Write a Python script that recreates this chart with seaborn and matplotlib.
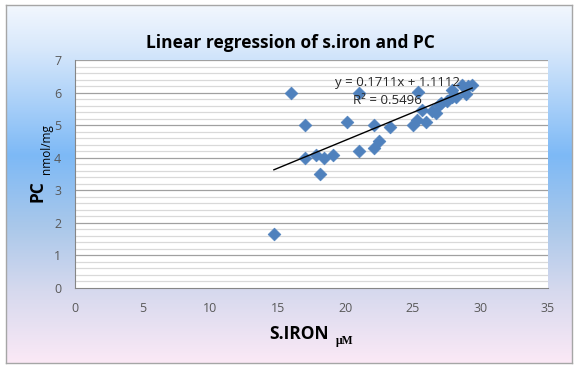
import numpy as np
import matplotlib
matplotlib.use("Agg")
import matplotlib.pyplot as plt
import seaborn as sns
import pandas as pd
from matplotlib.colors import LinearSegmentedColormap

# s.iron (uM) vs PC (nmol/mg)
s_iron = [14.7, 16.0, 17.0, 17.0, 17.8, 18.1, 18.4, 19.1, 20.1, 21.0,
          21.0, 22.1, 22.1, 22.5, 23.3, 25.0, 25.3, 25.4, 25.7, 26.0,
          26.4, 26.7, 26.9, 27.1, 27.5, 27.9, 27.9, 28.2, 28.6, 28.9,
          29.1, 29.4]
pc = [1.65, 6.0, 5.0, 4.0, 4.08, 3.5, 3.98, 4.08, 5.1, 6.0,
      4.2, 5.0, 4.3, 4.5, 4.95, 5.0, 5.15, 6.02, 5.47, 5.1,
      5.42, 5.38, 5.62, 5.69, 5.75, 6.08, 5.86, 5.87, 6.24, 5.97,
      6.2, 6.23]
slope = 0.1711
intercept = 1.1112
eq_label = "y = 0.1711x + 1.1112"
r2_label = "R² = 0.5496"
x_ticks = [0, 5, 10, 15, 20, 25, 30, 35]
y_ticks = [0, 1, 2, 3, 4, 5, 6, 7]

df = pd.DataFrame({"s_iron": s_iron, "pc": pc})

sns.set_style("white")
plt.rcParams["font.family"] = ["Open Sans", "DejaVu Sans"]

fig = plt.figure(figsize=(5.8, 3.66), dpi=100)
fig.patch.set_facecolor("white")

# gradient background with grey frame
bg = fig.add_axes([6 / 580, 3 / 366, 566 / 580, 358 / 366])
cmap = LinearSegmentedColormap.from_list(
    "bg", [(0.0, "#f2f7fe"), (0.12, "#d8e8fb"), (0.42, "#7db9f6"),
           (0.62, "#aac8ea"), (0.8, "#d6d9ee"), (1.0, "#fbe9f6")])
bg.imshow(np.linspace(0, 1, 256).reshape(-1, 1), aspect="auto", cmap=cmap,
          extent=[0, 1, 0, 1])
bg.set_xticks([])
bg.set_yticks([])
for s in bg.spines.values():
    s.set_color("#a6a6a6")
    s.set_linewidth(1.0)

ax = fig.add_axes([75 / 580, 78 / 366, 473 / 580, 228 / 366])
ax.set_facecolor("white")

# minor gridlines every 0.2, major at each unit
for v in np.arange(0.2, 7.0, 0.2):
    if abs(v - round(v)) < 1e-6:
        continue
    ax.axhline(v, color="#d9d9d9", lw=0.9, zorder=0)
for v in y_ticks[1:]:
    ax.axhline(v, color="#a0a0a0", lw=0.9, zorder=0)

sns.scatterplot(data=df, x="s_iron", y="pc", marker="D", s=42,
                color="#4f81bd", edgecolor="#4f81bd", linewidth=0.5,
                ax=ax, zorder=3)

xs = np.array([min(s_iron), max(s_iron)])
ax.plot(xs, slope * xs + intercept, color="black", lw=1.0, zorder=4)

ax.text(19.25, 6.32, eq_label, fontsize=9.5, color="#262626", va="center",
        family=["Open Sans", "DejaVu Sans"], zorder=5)
ax.text(20.6, 5.77, r2_label, fontsize=9.5, color="#262626", va="center",
        family=["Open Sans", "DejaVu Sans"], zorder=5)

ax.set_xlim(0, 35)
ax.set_ylim(0, 7)
ax.set_xticks(x_ticks)
ax.set_yticks(y_ticks)
ax.tick_params(axis="both", labelsize=9, colors="#595959", length=4,
               width=0.8, direction="out")
ax.tick_params(axis="x", pad=6)
ax.tick_params(axis="y", pad=6)
ax.set_xlabel("")
ax.set_ylabel("")
for side in ["top", "right"]:
    ax.spines[side].set_visible(False)
for side in ["left", "bottom"]:
    ax.spines[side].set_color("#868686")
    ax.spines[side].set_linewidth(0.8)

fig.text(0.5, 1 - 43 / 366, "Linear regression of s.iron and PC",
         ha="center", va="center", fontsize=12.5, fontweight="bold",
         color="black")

# axis titles with subscript units
fig.text(269 / 580, 1 - 334 / 366, "S.IRON", ha="left", va="center",
         fontsize=12.5, fontweight="bold", color="black")
fig.text(336 / 580, 1 - 341 / 366, "μM", ha="left", va="center",
         fontsize=8.5, fontweight="bold", color="black",
         family=["Liberation Serif", "DejaVu Serif"])
fig.text(37 / 580, 1 - 191 / 366, "PC", ha="center", va="center",
         rotation=90, fontsize=12.5, fontweight="bold", color="black")
fig.text(47 / 580, 1 - 149 / 366, "nmol/mg", ha="center", va="center",
         rotation=90, fontsize=8.5, color="black")

fig.savefig("out.png", dpi=100)
